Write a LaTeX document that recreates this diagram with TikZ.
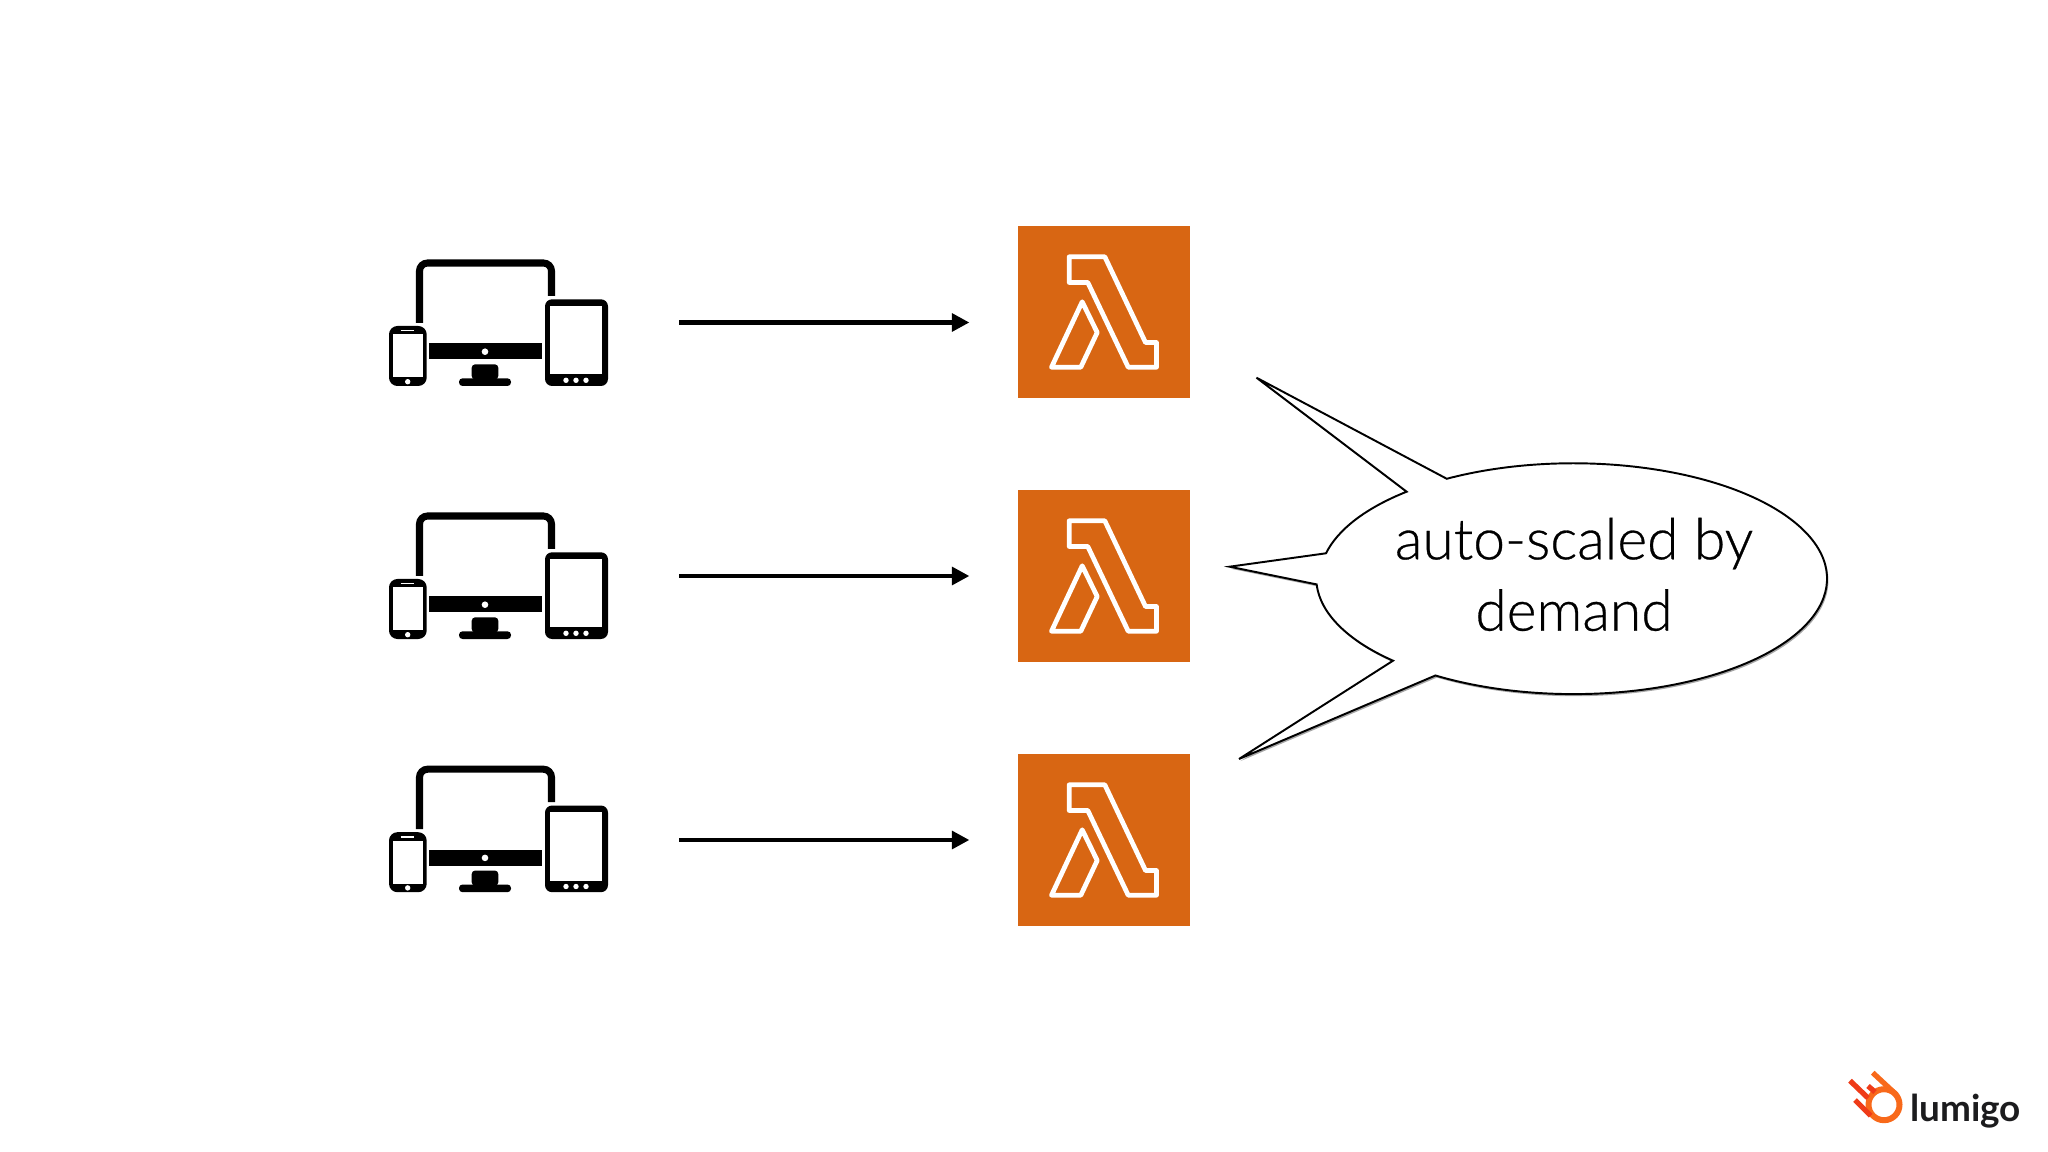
\documentclass[tikz,border=0pt]{standalone}
\usepackage{fontspec}
\usetikzlibrary{arrows.meta,shadows}
\newfontfamily\bubblefont[AutoFakeBold = 0.5]{Lato Light}
\newfontfamily\logofont{Lato}
\definecolor{lambdaorange}{HTML}{D86613}
\definecolor{cometred}{HTML}{EF3B18}
\definecolor{cometorange}{HTML}{F8691A}
\definecolor{logogrey}{HTML}{1C1C1E}
\tikzset{
  devbox/.style = {minimum width = 2.19cm, minimum height = 1.27cm, inner sep = 0pt},
  funcbox/.style = {fill = lambdaorange, minimum size = 1.72cm, inner sep = 0pt},
  lambdaline/.style = {draw = white, line width = 1.35pt, line join = round},
  flow/.style = {-{Triangle[length = 5pt, width = 5pt]}, line width = 1.25pt,
    shorten <= 20pt, shorten >= 13.6pt},
  streak/.style = {cometred, line width = 1.5pt}
}
\newcommand{\devices}[3]{%
% node name, centre x, centre y
  \node[devbox] (#1) at (#2,#3) {};
  \begin{scope}[shift = {(#2,#3)}]
    \draw[line width = 2pt, rounded corners = 2.3pt]
      (-79,0.5) -- (-79,-59.5) -- (53,-59.5) -- (53,-26.5);
    \fill (-69.2,20.8) rectangle (43.2,36.8);
    \fill[white] (-13.5,29.2) circle[radius = 3.3];
    \fill[rounded corners = 1pt] (-26.8,41.8) rectangle (-0.2,57);
    \fill[rounded corners = 1pt] (-39.5,55.8) rectangle (12.5,63.5);
    \fill[rounded corners = 2.4pt] (-109.5,3.5) rectangle (-71.8,63.5);
    \fill[white] (-105.8,11.8) rectangle (-75.2,54.8);
    \draw[white, line width = 0.4pt] (-97.8,8.2) -- (-84.2,8.2);
    \fill[white] (-90.8,59.2) circle[radius = 2.7];
    \fill[rounded corners = 2pt] (46.5,-23.2) rectangle (109.5,63.5);
    \fill[white] (51.8,-16.8) rectangle (103.8,51.8);
    \fill[white] (67.5,57.8) circle[radius = 2.7];
    \fill[white] (77.5,57.8) circle[radius = 2.7];
    \fill[white] (87.5,57.8) circle[radius = 2.7];
  \end{scope}
}
\newcommand{\lambdabox}[3]{%
% node name, centre x, centre y
  \node[funcbox] (#1) at (#2,#3) {};
  \begin{scope}[shift = {(#2,#3)}]
    \draw[lambdaline] (-34.8,-55.2) -- (0.8,-55.2) -- (41.5,30.5) -- (52.5,30.5)
      -- (52.5,55.2) -- (24.2,55.2) -- (-16.2,-29.5) -- (-34.8,-29.5) -- cycle;
    \draw[lambdaline] (-21.8,-10.2) -- (-6.8,20.5) -- (-23.2,55.2) -- (-52.5,55.2) -- cycle;
  \end{scope}
}
\begin{document}
\begin{tikzpicture}[x = 0.01cm, y = -0.01cm]
  \useasboundingbox (0,0) rectangle (2048,1152);
  \fill[white] (0,0) rectangle (2048,1152);
  \devices{devTop}{498.5}{322.5};
  \devices{devMid}{498.5}{575.5};
  \devices{devBot}{498.5}{828.7};
  \lambdabox{fnTop}{1104}{312};
  \lambdabox{fnMid}{1104}{576};
  \lambdabox{fnBot}{1104}{840};
  \draw[flow] (devTop.east) -- (devTop.east -| fnTop.west);
  \draw[flow] (devMid.east |- fnMid.west) -- (fnMid.west);
  \draw[flow] (devBot.east |- fnBot.west) -- (fnBot.west);
  % speech bubble with its three spikes
  \filldraw[fill = white, draw = black, line width = 0.55pt, line join = miter,
      drop shadow = {shadow xshift = 0.4pt, shadow yshift = -0.6pt, opacity = 0.35, fill = black}]
    (1573.5,578.7) ++(240:253.5 and 115.4) arc (240:483:253.5 and 115.4)
    -- (1239,759) -- (1393,660.7) arc (134.2:176.8:253.5 and 115.4)
    -- (1229.6,566.7) -- (1326,553.3) arc (192.7:228.9:253.5 and 115.4)
    -- (1256.5,377.7) -- cycle;
  \node[font = \bubblefont\bfseries\fontsize{16.2}{20.3}\selectfont, align = center, text = black] (demand)
    at (1574,574.5) {auto-scaled by\\demand};
  % logo
  \draw[cometorange, line width = 1.7pt] (1884,1104.7) circle[radius = 15.5];
  \draw[streak, cometorange] (1872.7,1072.7) -- (1896.7,1095);
  \draw[streak] (1850,1080.7) -- (1868,1098);
  \draw[streak] (1868,1086) -- (1875,1092);
  \draw[streak] (1855,1100) -- (1870.7,1115.7);
  \node[font = \logofont\bfseries\fontsize{10.5}{13}\selectfont, text = logogrey, anchor = west,
    inner sep = 0pt] (lumigo) at (1909.5,1111.5) {lumigo};
\end{tikzpicture}
\end{document}
